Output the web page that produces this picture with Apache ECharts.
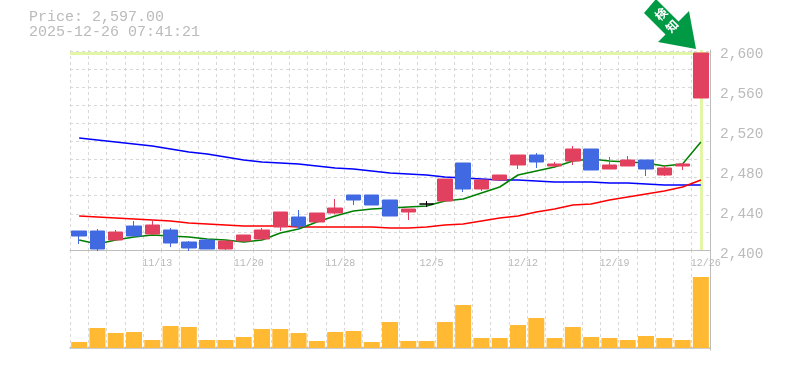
<!DOCTYPE html>
<html><head><meta charset="utf-8">
<style>html,body{margin:0;padding:0;background:#fff}#c{width:785px;height:370px}</style>
<script src="https://cdn.jsdelivr.net/npm/echarts@6/dist/echarts.min.js"></script>
</head><body><div id="c"></div>
<script>
const dates=['11/7','11/10','11/11','11/12','11/13','11/14','11/17','11/18','11/19','11/20','11/21','11/25','11/26','11/27','11/28','12/1','12/2','12/3','12/4','12/5','12/8','12/9','12/10','12/11','12/12','12/15','12/16','12/17','12/18','12/19','12/22','12/23','12/24','12/25','12/26'];
const labelled=['11/13','11/20','11/28','12/5','12/12','12/19','12/26'];
const priceTicks=[2400,2440,2480,2520,2560,2600];
const open =[2419,2419,2410,2424,2416,2420,2408,2410,2401,2409,2411,2423,2433,2428,2437,2455,2455,2450,2438,2446,2449,2487,2461,2470,2485,2495,2484,2489,2501,2481,2484,2490,2475,2484,2552];
const close=[2414,2401,2418,2414,2425,2407,2402,2401,2409,2415,2420,2438,2424,2437,2442,2450,2445,2434,2441,2446,2471,2461,2470,2475,2495,2488,2486,2501,2480,2485,2490,2481,2482,2486,2597];
const low  =[2406,2399,2409,2414,2416,2403,2399,2401,2400,2407,2409,2419,2421,2428,2436,2445,2445,2434,2430,2443,2449,2458,2459,2470,2481,2482,2483,2485,2480,2481,2484,2474,2474,2480,2552];
const high =[2419,2421,2420,2429,2430,2422,2409,2411,2410,2415,2422,2438,2440,2437,2451,2455,2455,2450,2441,2449,2471,2487,2470,2475,2495,2497,2488,2504,2501,2493,2494,2490,2484,2487,2597];
const maShort=[2410,2406,2410,2413,2415,2414,2413,2411,2410,2408,2410,2417,2421,2428,2434,2439,2441,2442,2443,2444,2449,2451,2457,2463,2475,2479,2483,2489,2491,2489,2488,2487,2484,2486,2508];
const maMid  =[2434,2433,2432,2431,2430,2429,2427,2426,2425,2424,2424,2424,2423,2423,2423,2423,2423,2422,2422,2423,2425,2426,2429,2432,2434,2438,2441,2445,2446,2450,2453,2456,2459,2463,2470];
const maLong =[2512,2510,2508,2506,2504,2501,2498,2496,2493,2490,2488,2487,2486,2484,2482,2481,2479,2477,2476,2475,2473,2472,2471,2470,2470,2469,2468,2468,2468,2467,2467,2466,2465,2465,2465];
const volume =[6,20,15,16,8,22,21,8,8,11,19,19,15,7,16,17,6,26,7,7,26,43,10,10,23,30,10,21,11,10,8,12,10,8,71];
const lastPrice=2597;
const priceText='Price: 2,597.00';
const timeText='2025-12-26 07:41:21';
const mono='"Liberation Mono","DejaVu Sans Mono",monospace';
const gridC='#d8d8d8', axisC='#bdbdbd', txtC='#bbbbbb';
const dash={color:gridC,type:[3,3],width:1};
const ch=echarts.init(document.getElementById('c'),null,{renderer:'canvas'});
const ma=(d,c,z)=>({type:'line',data:d,symbol:'none',smooth:false,silent:true,z:z,lineStyle:{color:c,width:1.5},xAxisIndex:0,yAxisIndex:0});
const hiddenX=(g)=>({type:'category',gridIndex:g,data:dates,show:false});
ch.setOption({
 animation:false,
 backgroundColor:'#fff',
 title:{text:priceText+'\n'+timeText,left:24,top:5,textStyle:{fontFamily:mono,fontSize:15,fontWeight:'normal',color:txtC,lineHeight:15}},
 grid:[{left:70,right:75,top:50,height:200},{left:70,right:75,top:250,height:100},{left:70,right:75,top:51,height:199},{left:70,right:75,top:54,height:200}],
 xAxis:[
  {type:'category',gridIndex:0,data:dates,boundaryGap:true,
   axisLine:{lineStyle:{color:axisC,width:1}},axisTick:{show:false},
   splitLine:{show:true,interval:0,lineStyle:dash},
   axisLabel:{show:true,interval:(i,v)=>labelled.includes(v),hideOverlap:false,fontFamily:mono,fontSize:10,color:'#b8b8b8',margin:8,align:'center',padding:[0,0,0,10]}},
  {type:'category',gridIndex:1,data:dates,boundaryGap:true,
   axisLine:{lineStyle:{color:axisC,width:1.5}},axisTick:{show:false},axisLabel:{show:false},
   splitLine:{show:true,interval:0,lineStyle:dash}},
  hiddenX(2),hiddenX(3)
 ],
 yAxis:[
  {type:'value',gridIndex:0,position:'right',min:priceTicks[0],max:priceTicks[5],interval:40,
   axisLine:{show:true,lineStyle:{color:axisC,width:1}},axisTick:{show:false},splitLine:{show:false},axisLabel:{show:false}},
  {type:'value',gridIndex:2,position:'left',min:0,max:11,interval:1,
   axisLine:{show:false},axisTick:{show:false},axisLabel:{show:false},splitLine:{show:true,lineStyle:dash}},
  {type:'value',gridIndex:1,position:'right',min:-2,max:98,
   axisLine:{show:true,lineStyle:{color:axisC,width:1}},axisTick:{show:false},axisLabel:{show:false},splitLine:{show:false}},
  {type:'value',gridIndex:3,position:'right',min:priceTicks[0],max:priceTicks[5],interval:40,
   axisLine:{show:false},axisTick:{show:false},splitLine:{show:false},
   axisLabel:{fontFamily:mono,fontSize:14.5,color:txtC,margin:10,formatter:v=>v.toLocaleString('en-US')}}
 ],
 series:[
  {type:'line',data:[],xAxisIndex:2,yAxisIndex:1,silent:true},
  {type:'line',data:[],xAxisIndex:3,yAxisIndex:3,silent:true},
  ma(maLong,'#0000ff',3),ma(maMid,'#ff0000',3),ma(maShort,'#008000',3),
  {type:'candlestick',xAxisIndex:0,yAxisIndex:0,barWidth:15,z:4,silent:true,
   data:dates.map((_,i)=>[open[i],close[i],low[i],high[i]]),
   itemStyle:{color:'#e2405f',color0:'#4169e1',borderColor:'#e2405f',borderColor0:'#4169e1',borderColorDoji:'#000',borderWidth:1},
   markLine:{silent:true,symbol:'none',label:{show:false},z:1,animation:false,
    lineStyle:{color:'#e3f5a6',width:3,type:'solid'},
    data:[{yAxis:lastPrice},{xAxis:dates[dates.length-1]}]}},
  {type:'bar',xAxisIndex:1,yAxisIndex:2,data:volume,barWidth:16,silent:true,itemStyle:{color:'#ffb933'}}
 ],
 graphic:[
  {type:'polygon',shape:{points:[[644,13],[656,-1],[678.5,21.5],[689,11],[696,49],[658,42],[665.5,34.5]]},style:{fill:'#009944'}},
  {type:'text',x:661,y:14,rotation:Math.PI/4,style:{text:'検',fill:'#fff',font:'bold 12px "Noto Sans CJK JP"',align:'center',verticalAlign:'middle'}},
  {type:'text',x:672,y:26,rotation:Math.PI/4,style:{text:'知',fill:'#fff',font:'bold 12px "Noto Sans CJK JP"',align:'center',verticalAlign:'middle'}}
 ]
});
</script></body></html>
